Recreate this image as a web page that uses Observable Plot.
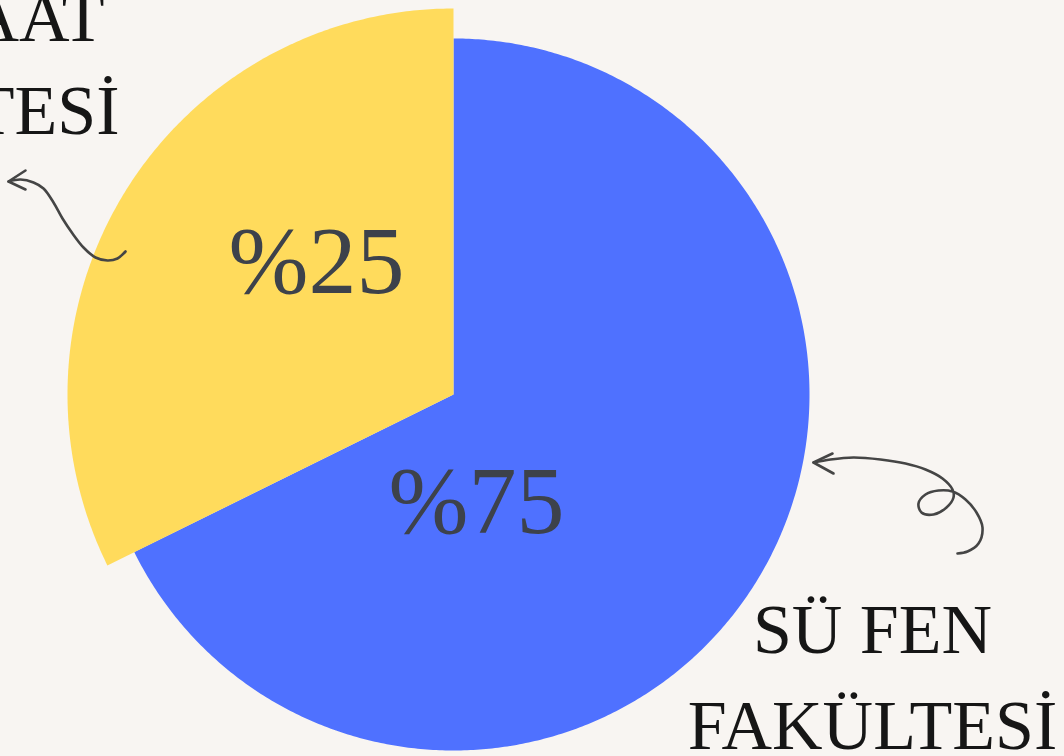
<!DOCTYPE html>
<html>
<head>
<meta charset="utf-8">
<script src="https://cdn.jsdelivr.net/npm/d3@7"></script>
<script src="https://cdn.jsdelivr.net/npm/@observablehq/plot@0.6"></script>
<style>
  html, body { margin: 0; padding: 0; background: #F8F5F2; overflow: hidden; }
  #chart svg { display: block; }
</style>
</head>
<body>
<div id="chart"></div>
<script>
// ---- data ----
const categories = ["SÜ FEN FAKÜLTESİ", "SÜ İNŞAAT FAKÜLTESİ"];
const shares = [67.7, 32.3];            // angular share as drawn in the picture
const percentLabels = ["%75", "%25"];
const sliceColors = ["#4F71FF", "#FFDB5C"];
const sliceRadius = [356, 386];
const percentX = [476, 316];
const percentY = [532, 292];

const labelLines = ["SÜ FEN", "FAKÜLTESİ", "SÜ İNŞAAT", "FAKÜLTESİ"];
const labelX = [872, 872, 104, 119];
const labelY = [652, 748, 40, 133];
const labelAnchor = ["middle", "middle", "end", "end"];

// hand-drawn arrows (canvas coordinates)
const arrowFenX = [813, 830, 853, 880, 905, 925, 942, 952, 953, 946, 933, 921, 918, 925, 938, 952, 965, 976, 982, 978, 967, 957];
const arrowFenY = [462, 459, 457, 459, 463, 469, 478, 489, 497, 507, 514, 512, 503, 494, 490, 491, 499, 512, 527, 543, 551, 553];
const headFenX = [832, 813, 833];
const headFenY = [453, 462, 473];
const arrowInsX = [8, 20, 33, 43, 53, 62, 72, 83, 95, 107, 117, 123, 125];
const arrowInsY = [181, 179, 182, 188, 202, 218, 233, 247, 257, 260, 258, 253, 251];
const headInsX = [25, 8, 25];
const headInsY = [170, 181, 189];

// ---- layout ----
const W = 1064, H = 756;
const cx = 453, cy = 394;

const pie = d3.pie().sort(null).value(d => d)(shares);
const slicePts = [];
pie.forEach((p, i) => {
  const r = sliceRadius[i];
  slicePts.push({k: i, x: cx, y: cy});
  const n = Math.ceil((p.endAngle - p.startAngle) / (Math.PI / 360));
  for (let j = 0; j <= n; j++) {
    const a = p.startAngle + (p.endAngle - p.startAngle) * j / n;
    slicePts.push({k: i, x: cx + r * Math.sin(a), y: cy - r * Math.cos(a)});
  }
  slicePts.push({k: i, x: cx, y: cy});
});

const zip = (xs, ys) => xs.map((x, i) => ({x, y: ys[i]}));
const percentData = percentLabels.map((t, i) => ({t, x: percentX[i], y: percentY[i]}));
const labelData = labelLines.map((t, i) => ({t, x: labelX[i], y: labelY[i], a: labelAnchor[i]}));

const arrowStyle = {x: "x", y: "y", stroke: "#454545", strokeWidth: 2.6, strokeLinecap: "round", strokeLinejoin: "round"};

const chart = Plot.plot({
  width: W,
  height: H,
  margin: 0,
  x: {domain: [0, W], range: [0, W], axis: null},
  y: {domain: [0, H], range: [0, H], axis: null},
  style: {background: "#F8F5F2"},
  marks: [
    Plot.line(slicePts.filter(d => d.k === 0), {x: "x", y: "y", fill: sliceColors[0], stroke: "none", curve: "linear"}),
    Plot.line(slicePts.filter(d => d.k === 1), {x: "x", y: "y", fill: sliceColors[1], stroke: "none", curve: "linear"}),
    Plot.text(percentData, {x: "x", y: "y", text: "t", fontFamily: "Liberation Serif", fontSize: 96, fill: "#3D424B", lineAnchor: "bottom", textAnchor: "middle"}),
    ...["middle", "end"].map(a => Plot.text(labelData.filter(d => d.a === a), {x: "x", y: "y", text: "t", fontFamily: "Liberation Serif", fontSize: 70, fill: "#161616", lineAnchor: "bottom", textAnchor: a})),
    Plot.line(zip(arrowFenX, arrowFenY), {...arrowStyle, curve: "catmull-rom"}),
    Plot.line(zip(headFenX, headFenY), {...arrowStyle, curve: "linear"}),
    Plot.line(zip(arrowInsX, arrowInsY), {...arrowStyle, curve: "catmull-rom"}),
    Plot.line(zip(headInsX, headInsY), {...arrowStyle, curve: "linear"})
  ]
});
document.getElementById("chart").appendChild(chart);
</script>
</body>
</html>
